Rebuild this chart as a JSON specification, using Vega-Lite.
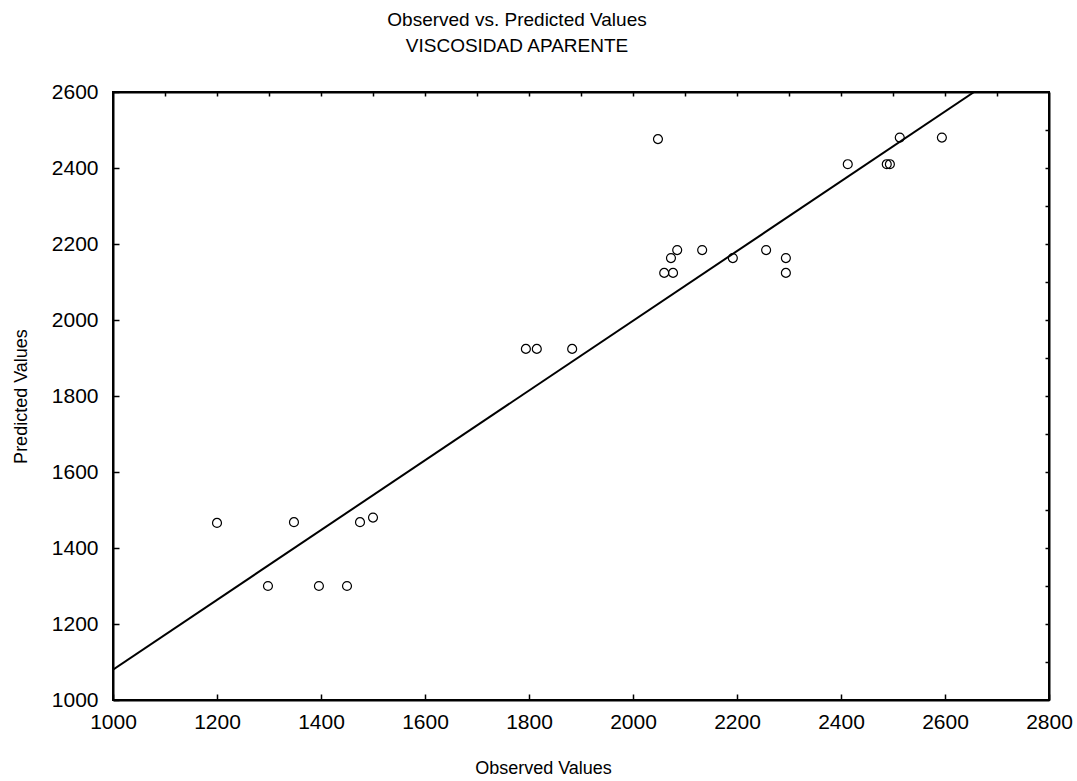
{
  "$schema": "https://vega.github.io/schema/vega-lite/v6.json",
  "width": 936,
  "height": 608,
  "autosize": "none",
  "padding": {"left": 113, "top": 92, "right": 28, "bottom": 81},
  "background": "white",
  "title": {
    "text": ["Observed vs. Predicted Values", "VISCOSIDAD APARENTE"],
    "font": "Liberation Sans",
    "fontSize": 19,
    "fontWeight": "normal",
    "color": "black",
    "lineHeight": 26,
    "anchor": "middle",
    "dx": -64,
    "offset": 25
  },
  "datasets": {
    "pts": [
      {"observed": 1200, "predicted": 1466},
      {"observed": 1298, "predicted": 1300},
      {"observed": 1348, "predicted": 1468},
      {"observed": 1396, "predicted": 1300},
      {"observed": 1450, "predicted": 1300},
      {"observed": 1475, "predicted": 1468},
      {"observed": 1500, "predicted": 1480},
      {"observed": 1794, "predicted": 1924},
      {"observed": 1815, "predicted": 1924},
      {"observed": 1883, "predicted": 1924},
      {"observed": 2048, "predicted": 2476},
      {"observed": 2060, "predicted": 2124},
      {"observed": 2073, "predicted": 2163},
      {"observed": 2077, "predicted": 2124},
      {"observed": 2085, "predicted": 2184},
      {"observed": 2133, "predicted": 2184},
      {"observed": 2192, "predicted": 2163},
      {"observed": 2256, "predicted": 2184},
      {"observed": 2294, "predicted": 2163},
      {"observed": 2294, "predicted": 2124},
      {"observed": 2413, "predicted": 2410},
      {"observed": 2488, "predicted": 2410},
      {"observed": 2494, "predicted": 2410},
      {"observed": 2513, "predicted": 2480},
      {"observed": 2594, "predicted": 2480}
    ],
    "fit": [
      {"observed": 1000, "predicted": 1080},
      {"observed": 2656, "predicted": 2600}
    ]
  },
  "layer": [
    {
      "data": {"name": "pts"},
      "mark": {"type": "point", "shape": "circle", "size": 80, "filled": false, "stroke": "black", "strokeWidth": 1.2, "opacity": 1},
      "encoding": {
        "x": {
          "field": "observed", "type": "quantitative",
          "scale": {"domain": [1000, 2800], "nice": false, "zero": false},
          "axis": {
            "orient": "bottom", "title": "Observed Values", "format": "d", "labelFlush": false,
            "values": [1000, 1200, 1400, 1600, 1800, 2000, 2200, 2400, 2600, 2800],
            "grid": false, "tickSize": -6, "labelPadding": 17, "titleX": 430, "titlePadding": 27
          }
        },
        "y": {
          "field": "predicted", "type": "quantitative",
          "scale": {"domain": [1000, 2600], "nice": false, "zero": false},
          "axis": {
            "orient": "left", "title": "Predicted Values", "format": "d", "labelFlush": false,
            "values": [1000, 1200, 1400, 1600, 1800, 2000, 2200, 2400, 2600],
            "grid": false, "tickSize": -6, "labelPadding": 21, "titlePadding": 21
          }
        }
      }
    },
    {
      "data": {"name": "fit"},
      "mark": {"type": "line", "color": "black", "strokeWidth": 2, "clip": true},
      "encoding": {
        "x": {
          "field": "observed", "type": "quantitative",
          "axis": {
            "orient": "top", "title": null, "labels": false,
            "values": [1100, 1200, 1300, 1400, 1500, 1600, 1700, 1800, 1900, 2000, 2100, 2200, 2300, 2400, 2500, 2600, 2700],
            "grid": false, "tickSize": -4
          }
        },
        "y": {
          "field": "predicted", "type": "quantitative",
          "axis": {
            "orient": "right", "title": null, "labels": false,
            "values": [1100, 1200, 1300, 1400, 1500, 1600, 1700, 1800, 1900, 2000, 2100, 2200, 2300, 2400, 2500],
            "grid": false, "tickSize": -4
          }
        }
      }
    }
  ],
  "config": {
    "view": {"stroke": "black", "strokeWidth": 2},
    "axis": {
      "domainColor": "black", "domainWidth": 2,
      "tickColor": "black", "tickWidth": 1.5,
      "labelFont": "Liberation Sans", "labelFontSize": 21, "labelColor": "black",
      "titleFont": "Liberation Sans", "titleFontSize": 18, "titleFontWeight": "normal", "titleColor": "black"
    }
  }
}
